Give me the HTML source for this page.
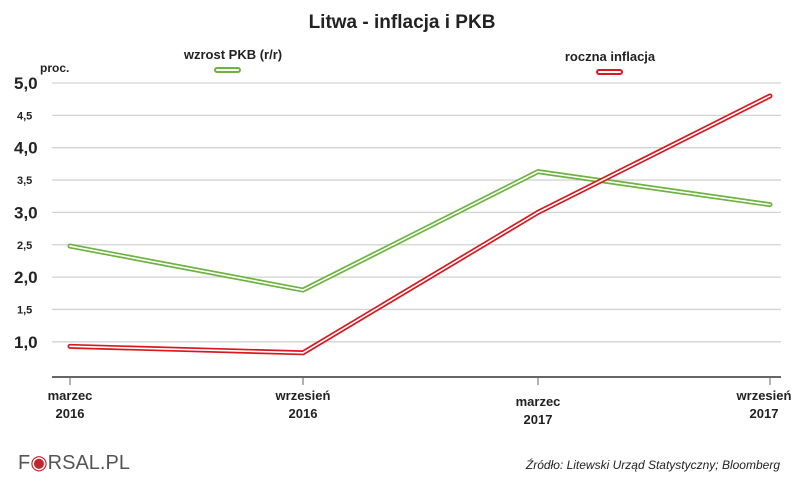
<!DOCTYPE html>
<html><head><meta charset="utf-8"><style>
body{margin:0;background:#fff;font-family:"Liberation Sans",sans-serif}
svg text{font-family:"Liberation Sans",sans-serif}
</style></head><body>
<svg width="805" height="481" viewBox="0 0 805 481">
<text x="402" y="28" text-anchor="middle" font-size="19" font-weight="bold" fill="#222">Litwa - inflacja i PKB</text>
<g id="grid"></g>
<g id="series"></g>
<text x="40" y="72" font-size="12" font-weight="bold" fill="#222">proc.</text>
<g>
<text x="233" y="59" text-anchor="middle" font-size="13" font-weight="bold" fill="#222">wzrost PKB (r/r)</text>
<rect x="215" y="68" width="25" height="4" rx="2" fill="#fff" stroke="#6db33f" stroke-width="2"/>
</g>
<g>
<text x="610" y="61" text-anchor="middle" font-size="13" font-weight="bold" fill="#222">roczna inflacja</text>
<rect x="597" y="70" width="25" height="4" rx="2" fill="#fff" stroke="#d7191f" stroke-width="2"/>
</g>
<line x1="52" y1="377" x2="781" y2="377" stroke="#666" stroke-width="2"/>
<g id="xaxis"></g>
<text x="18" y="469" font-family="Liberation Serif" font-size="20" fill="#555">F<tspan fill="#c0272d">◉</tspan>RSAL.PL</text>
<text x="780" y="469" text-anchor="end" font-size="12" font-style="italic" fill="#222">Źródło:  Litewski Urząd Statystyczny; Bloomberg</text>
</svg>
<script>
const categories=["marzec 2016","wrzesień 2016","marzec 2017","wrzesień 2017"];
const pkb=[2.48,1.8,3.63,3.12];
const inflation=[0.93,0.83,3.0,4.8];
const yTicks=[1.0,1.5,2.0,2.5,3.0,3.5,4.0,4.5,5.0];
const yLabels=["1,0","1,5","2,0","2,5","3,0","3,5","4,0","4,5","5,0"];
const NS="http://www.w3.org/2000/svg";
function y(v){return 83+(5-v)*64.7;}
const xs=[70,303,538,770];
function x(i){return xs[i];}
function mk(t,a,p){const e=document.createElementNS(NS,t);for(const k in a)e.setAttribute(k,a[k]);p.appendChild(e);return e;}
const grid=document.getElementById('grid');
yTicks.forEach((v,i)=>{
 const l=mk('line',{x1:52,x2:781,y1:y(v),y2:y(v),stroke:'#d3d3d3','stroke-width':1.3},grid);
 
 
 const major=Number.isInteger(v);
 const t=mk('text',{x:major?14:17,y:y(v)+(major?6:4),'font-size':major?17:11,'font-weight':'bold',fill:'#222'},grid);
 t.textContent=yLabels[i];
 
 
});
const xa=document.getElementById('xaxis');
categories.forEach((c,i)=>{
 const tk=mk('line',{x1:x(i),x2:x(i),y1:377,y2:385,stroke:'#666','stroke-width':1},xa);
 
 
 const p=c.split(' ');const off=(i==2)?6:0;
 const lx=(i==3)?x(i)-6:x(i);
 const t=mk('text',{x:lx,y:400+off,'text-anchor':'middle','font-size':13,'font-weight':'bold',fill:'#222'},xa);
 
 
 mk('tspan',{x:lx,dy:0},t).textContent=p[0];
 mk('tspan',{x:lx,dy:18},t).textContent=p[1];
});
const sg=document.getElementById('series');
function draw(vals,col,name){
 const d=vals.map((v,i)=>(i?'L':'M')+x(i)+' '+y(v)).join(' ');
 const o=mk('path',{d:d,fill:'none',stroke:col,'stroke-width':5,'stroke-linejoin':'round','stroke-linecap':'round'},sg);
 
 
 const inn=mk('path',{d:d,fill:'none',stroke:'#fff','stroke-width':1.6,'stroke-linejoin':'round','stroke-linecap':'round'},sg);
 
 
}
draw(pkb,'#6db33f','pkb');
draw(inflation,'#d7191f','inflation');
</script>
</body></html>
